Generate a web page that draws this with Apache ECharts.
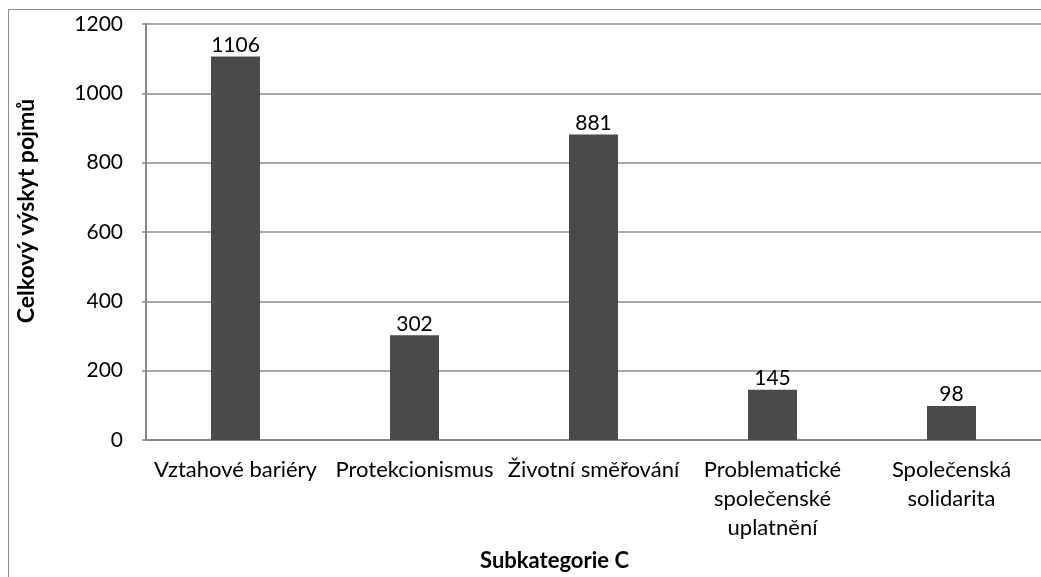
<!DOCTYPE html>
<html>
<head>
<meta charset="utf-8">
<script src="https://cdn.jsdelivr.net/npm/echarts@6/dist/echarts.min.js"></script>
<style>
  html, body { margin: 0; padding: 0; background: #fff; }
  #chart { width: 1041px; height: 577px; }
</style>
</head>
<body>
<div id="chart"></div>
<script>
const categories = [
  'Vztahové bariéry',
  'Protekcionismus',
  'Životní směřování',
  'Problematické\nspolečenské\nuplatnění',
  'Společenská\nsolidarita'
]
const values = [1106, 302, 881, 145, 98]
const yTicks = [0, 200, 400, 600, 800, 1000, 1200]

const font = 'Lato, "Open Sans", sans-serif'
const chart = echarts.init(document.getElementById('chart'))

chart.setOption({
  animation: false,
  graphic: [{
    type: 'rect',
    shape: { x: 8.5, y: 9.5, width: 1100, height: 700 },
    style: { fill: 'none', stroke: '#8c8c8c', lineWidth: 1 },
    z: 0
  }],
  grid: { left: 146, top: 24, width: 897, height: 418 },
  xAxis: {
    type: 'category',
    data: categories,
    axisLine: { lineStyle: { color: '#868686', width: 2 } },
    axisTick: { show: false },
    axisLabel: {
      color: '#000', fontFamily: font, fontSize: 22, lineHeight: 29,
      margin: 15, interval: 0
    },
    name: 'Subkategorie C',
    nameLocation: 'middle',
    nameGap: 110,
    nameTextStyle: {
      color: '#000', fontFamily: font, fontSize: 22, fontWeight: 'bold',
      padding: [0, 78, 0, 0]
    }
  },
  yAxis: {
    type: 'value',
    min: yTicks[0],
    max: yTicks[yTicks.length - 1],
    interval: yTicks[1] - yTicks[0],
    axisLine: { show: true, lineStyle: { color: '#868686', width: 2 } },
    axisTick: { show: true, length: 4, lineStyle: { color: '#868686', width: 1.5 } },
    splitLine: { lineStyle: { color: '#8a8a8a', width: 1.5 } },
    axisLabel: { color: '#000', fontFamily: font, fontSize: 21, margin: 23, formatter: v => String(v) },
    name: 'Celkový výskyt pojmů',
    nameLocation: 'middle',
    nameGap: 108,
    nameTextStyle: {
      color: '#000', fontFamily: font, fontSize: 23, fontWeight: 'bold',
      padding: [0, 0, 0, 42]
    }
  },
  series: [{
    type: 'bar',
    data: values,
    barWidth: 49,
    itemStyle: { color: '#4a4a4a' },
    label: {
      show: true, position: 'top', distance: 1,
      color: '#000', fontFamily: font, fontSize: 21
    }
  }]
})
</script>
</body>
</html>
